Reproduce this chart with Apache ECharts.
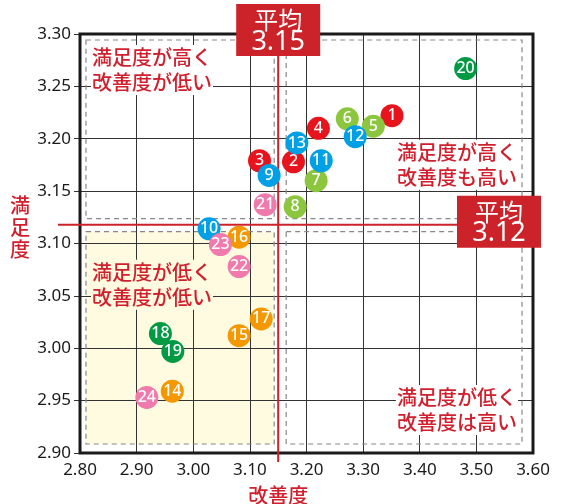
<!DOCTYPE html>
<html><head><meta charset="utf-8">
<script src="https://cdn.jsdelivr.net/npm/echarts@6/dist/echarts.min.js"></script>
<style>html,body{margin:0;padding:0;background:#fff}#c{width:567px;height:504px}</style>
</head><body><div id="c"></div>
<script>
// ---- data ----
const pointIds    = [1,2,3,4,5,6,7,8,9,10,11,12,13,14,15,16,17,18,19,20,21,22,23,24];
const improveVals = [3.351,3.177,3.117,3.221,3.318,3.272,3.217,3.180,3.134,3.028,3.226,3.286,3.183,2.963,3.081,3.081,3.120,2.942,2.964,3.481,3.127,3.081,3.048,2.918];
const satisfyVals = [3.222,3.178,3.179,3.210,3.212,3.219,3.160,3.135,3.165,3.114,3.179,3.202,3.196,2.959,3.012,3.106,3.028,3.014,2.997,3.267,3.137,3.078,3.099,2.953];
const pointGroups = [0,0,0,0,1,1,1,1,2,2,2,2,2,3,3,3,3,4,4,4,5,5,5,5];
const groupColors = ['#e8141d','#8cc63e','#00a0e6','#f39800','#009a45','#ef7aab'];
const meanImprove = 3.15, meanImproveLabel = '3.15';
const meanSatisfy = 3.118, meanSatisfyLabel = '3.12';
const xMin = 2.8, xMax = 3.6, xStep = 0.1;
const yMin = 2.9, yMax = 3.3, yStep = 0.05;
const xName = '改善度', yName = '満足度';
const quadTexts = {
  tl: '満足度が高く\n改善度が低い',
  tr: '満足度が高く\n改善度も高い',
  bl: '満足度が低く\n改善度が低い',
  br: '満足度が低く\n改善度は高い'
};

const RED = '#cc2229';
const TXT = '#d0202e';
const FONT = '"Noto Sans", "Noto Sans CJK JP", sans-serif';
const JFONT = '"Noto Sans CJK JP", sans-serif';

const chart = echarts.init(document.getElementById('c'), null, {renderer:'canvas'});
const seriesData = pointIds.map((id,i)=>({
  value:[improveVals[i], satisfyVals[i], id],
  itemStyle:{color: groupColors[pointGroups[i]]}
}));

chart.setOption({
  animation:false,
  backgroundColor:'#fff',
  grid:{left:80, right:34, top:34, bottom:51, containLabel:false, outerBoundsMode:'none',
        show:true, borderColor:'#1a1a1a', borderWidth:3, backgroundColor:'transparent', z:3},
  xAxis:{type:'value', min:xMin, max:xMax, interval:xStep,
    axisLine:{show:false}, axisTick:{show:false},
    axisLabel:{margin:9, fontSize:17, color:'#1a1a1a', fontFamily:FONT, formatter:v=>v.toFixed(2)},
    splitLine:{show:true, lineStyle:{color:'#333', width:1}}},
  yAxis:{type:'value', min:yMin, max:yMax, interval:yStep,
    axisLine:{show:false}, axisTick:{show:true, length:6, lineStyle:{color:'#333'}},
    axisLabel:{margin:9, fontSize:17, color:'#1a1a1a', fontFamily:FONT, formatter:v=>v.toFixed(2)},
    splitLine:{show:true, lineStyle:{color:'#333', width:1}}},
  series:[{
    type:'scatter', symbol:'circle', symbolSize:23, z:5,
    data:seriesData,
    label:{show:true, position:'inside', formatter:p=>String(p.value[2]), color:'#fff',
           fontSize:16, fontFamily:FONT, fontWeight:500},
    itemStyle:{opacity:1}
  }]
});

function build(){
  const p0 = chart.convertToPixel({gridIndex:0},[xMin,yMax]);
  const p1 = chart.convertToPixel({gridIndex:0},[xMax,yMin]);
  const pm = chart.convertToPixel({gridIndex:0},[meanImprove,meanSatisfy]);
  const x0=p0[0], y0=p0[1], x1=p1[0], y1=p1[1], mx=pm[0], my=pm[1];
  const dash = {stroke:'#888', lineWidth:1.2, lineDash:[5,4], fill:null};
  const boxes = [
    [x0+6, y0+6, mx-4, my-6],
    [mx+8, y0+6, x1-11, my-6],
    [x0+6, my+7, mx-4, y1-9],
    [mx+8, my+7, x1-11, y1-9]
  ];
  const els = [];
  const bl = boxes[2];
  els.push({type:'rect', z:-5, shape:{x:bl[0],y:bl[1],width:bl[2]-bl[0],height:bl[3]-bl[1]},
            style:{fill:'#fefbe1'}});
  boxes.forEach(b=>els.push({type:'rect', z:1, shape:{x:b[0],y:b[1],width:b[2]-b[0],height:b[3]-b[1]}, style:dash}));
  els.push({type:'line', z:4, shape:{x1:mx,y1:y0,x2:mx,y2:y1+9}, style:{stroke:RED,lineWidth:2}});
  els.push({type:'line', z:4, shape:{x1:x0-22,y1:my,x2:x1,y2:my}, style:{stroke:RED,lineWidth:2}});
  const qt = (txt,x,y,align,bg)=>({type:'text', z:4, x:x, y:y,
     style:{text:txt, fill:TXT, font:'500 20px '+JFONT, lineHeight:25, align:align, verticalAlign:'top',
            backgroundColor:bg, padding:[0,1,0,1]}});
  els.push(qt(quadTexts.tl, x0+11, y0+11, 'left', '#fff'));
  els.push(qt(quadTexts.tr, x1-15, my-85, 'right', '#fff'));
  els.push(qt(quadTexts.bl, x0+11, my+35, 'left', '#fefbe1'));
  els.push(qt(quadTexts.br, x1-15, y1-68, 'right', '#fff'));
  const meanBox = (cx,top,val)=>[
    {type:'rect', z:10, shape:{x:cx-42,y:top,width:84,height:52}, style:{fill:RED}},
    {type:'text', z:11, x:cx, y:top+16, style:{text:'平均', fill:'#fff', font:'24px '+JFONT, align:'center', verticalAlign:'middle'}},
    {type:'text', z:11, x:cx, y:top+38, style:{text:val, fill:'#fff', font:'27px '+FONT, align:'center', verticalAlign:'middle'}}
  ];
  els.push(...meanBox(mx, 4, meanImproveLabel));
  els.push(...meanBox(x1-34, my-29, meanSatisfyLabel));
  els.push({type:'text', z:4, x:20, y:my+3, style:{text:yName.split('').join('\n'), fill:TXT, font:'500 20px '+JFONT,
            lineHeight:22, align:'center', verticalAlign:'middle'}});
  els.push({type:'text', z:4, x:mx, y:y1+42, style:{text:xName, fill:TXT, font:'500 20px '+JFONT,
            align:'center', verticalAlign:'middle'}});
  chart.setOption({graphic:{elements:els}});
}
build();
</script></body></html>
